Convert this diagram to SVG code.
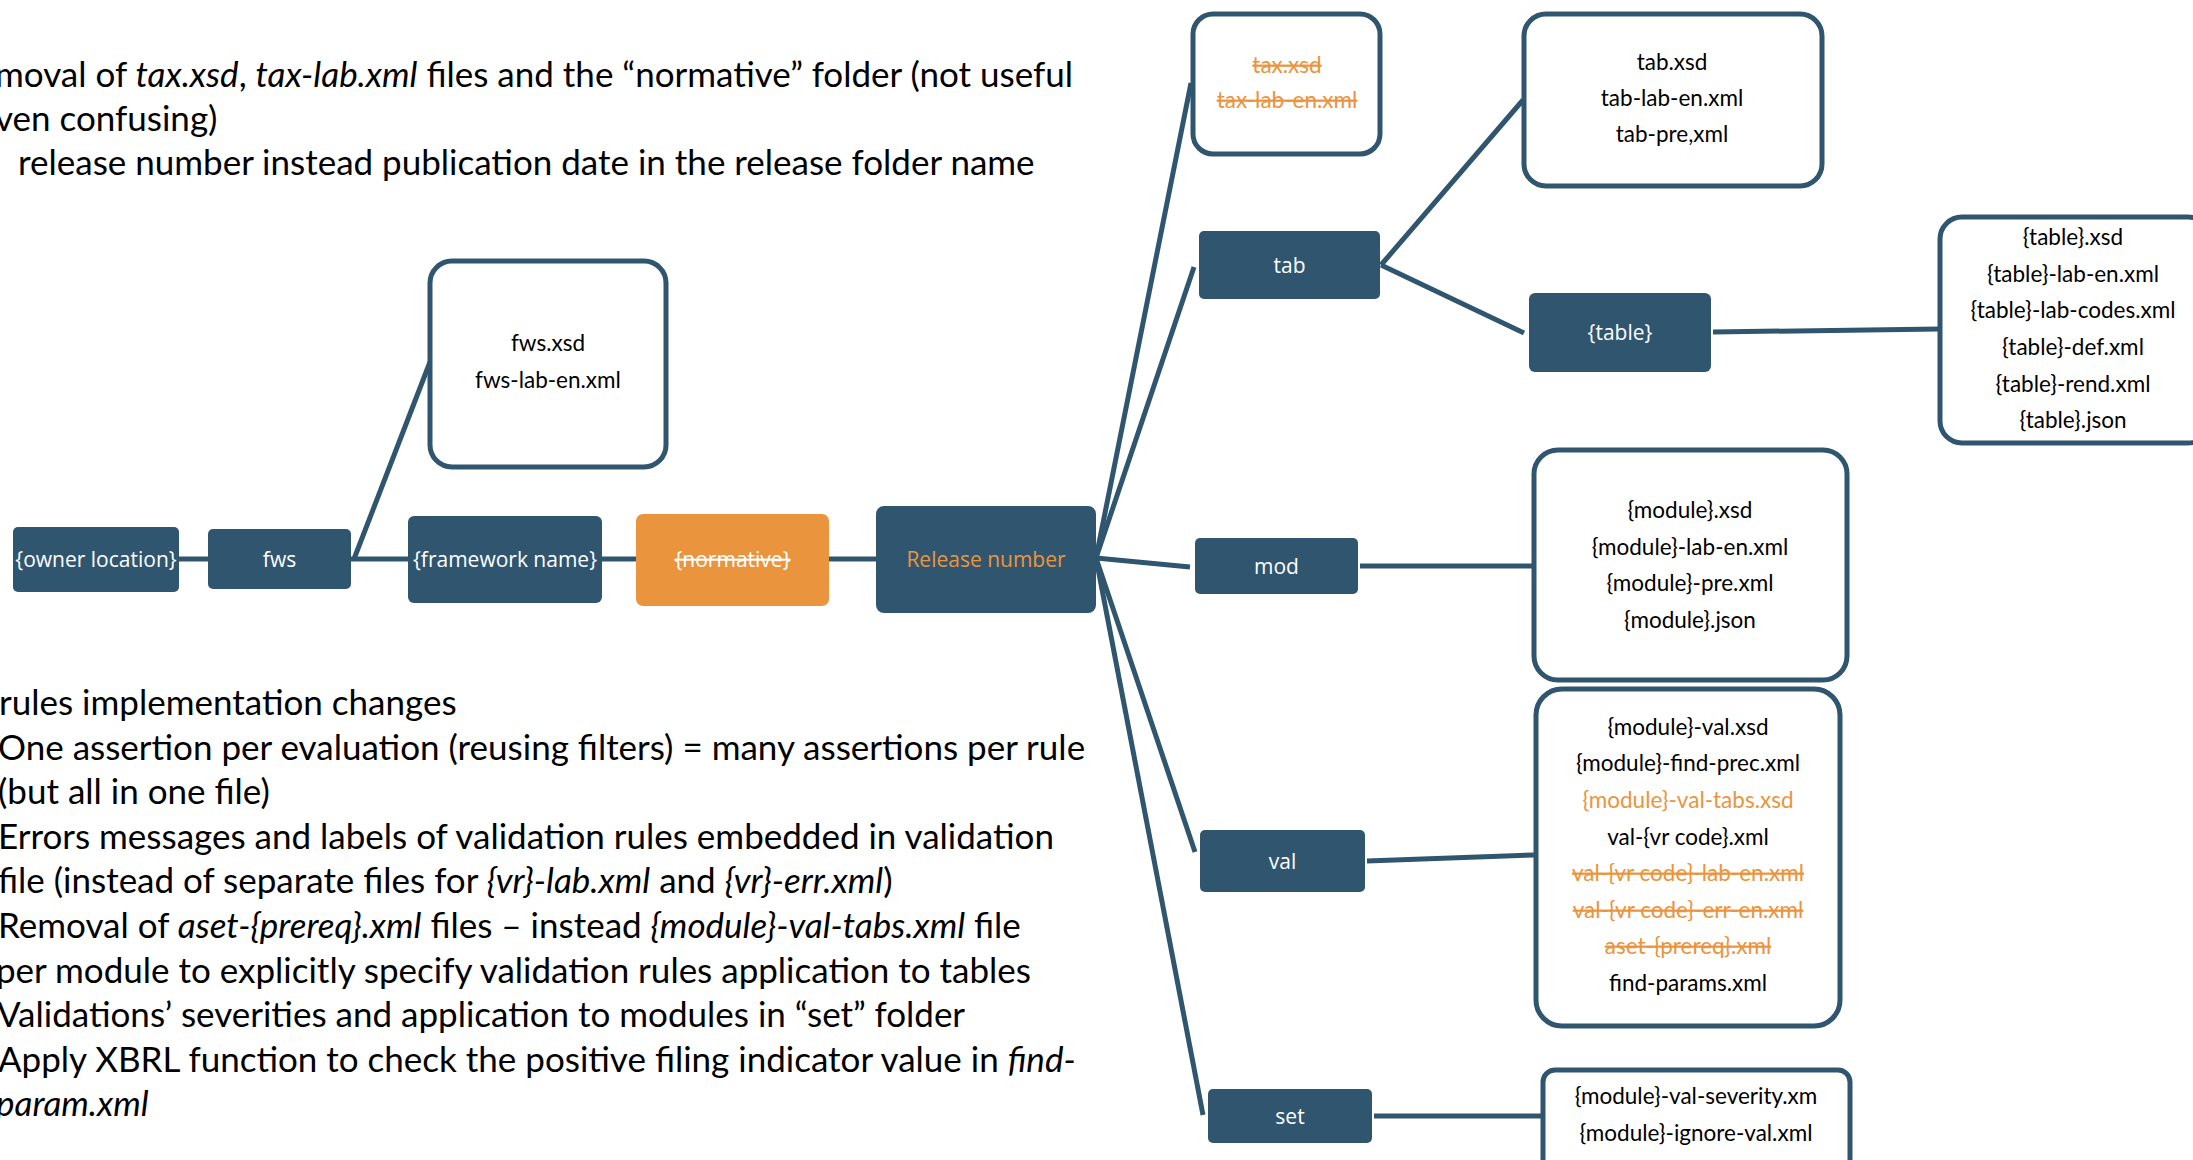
<svg xmlns="http://www.w3.org/2000/svg" width="2193" height="1160" viewBox="0 0 2193 1160">
  <style>
    .note { font-family: Lato, "Liberation Sans", sans-serif; font-size: 35px; fill: #000; }
    .note .it { font-style: italic; }
    .folder { fill: #30566F; }
    .folder-x { fill: #EA953D; }
    .lbl { font-family: "Open Sans", "Liberation Sans", sans-serif; font-size: 21px; fill: #FFFFFF; text-anchor: middle; dominant-baseline: central; }
    .lbl-o { fill: #EA953D; }
    .files { fill: #FFFFFF; stroke: #30566F; stroke-width: 5; }
    .file { font-family: Lato, "Liberation Sans", sans-serif; font-size: 22.5px; fill: #000; text-anchor: middle; }
    .gone { fill: #EA953D; text-decoration: line-through; }
    .new { fill: #EA953D; }
    .link { stroke: #30566F; stroke-width: 5; fill: none; stroke-linecap: butt; }
  </style>

  <!-- explanatory notes -->
  <g id="notes-top" class="note">
    <text x="-5" y="87">moval of <tspan class="it">tax.xsd</tspan>, <tspan class="it">tax-lab.xml</tspan> files and the “normative” folder (not useful</text>
    <text x="-5" y="131">ven confusing)</text>
    <text x="18" y="175">release number instead publication date in the release folder name</text>
  </g>
  <g id="notes-bottom" class="note">
    <text x="-1" y="715">rules implementation changes</text>
    <text x="-2" y="760">One assertion per evaluation (reusing filters) = many assertions per rule</text>
    <text x="-2" y="804">(but all in one file)</text>
    <text x="-2" y="849">Errors messages and labels of validation rules embedded in validation</text>
    <text x="-2" y="893">file (instead of separate files for <tspan class="it">{vr}-lab.xml</tspan> and <tspan class="it">{vr}-err.xml</tspan>)</text>
    <text x="-2" y="938">Removal of <tspan class="it">aset-{prereq}.xml</tspan> files – instead <tspan class="it">{module}-val-tabs.xml</tspan> file</text>
    <text x="-4" y="983">per module to explicitly specify validation rules application to tables</text>
    <text x="-3" y="1027">Validations’ severities and application to modules in “set” folder</text>
    <text x="-2" y="1072">Apply XBRL function to check the positive filing indicator value in <tspan class="it">find-</tspan></text>
    <text x="-4" y="1116" class="it">param.xml</text>
  </g>

  <!-- connectors -->
  <g id="connectors" class="link">
    <line x1="179" y1="559" x2="208" y2="559"/>
    <line x1="351" y1="559" x2="408" y2="559"/>
    <line x1="354" y1="559" x2="430" y2="362"/>
    <line x1="602" y1="559" x2="636" y2="559"/>
    <line x1="829" y1="559" x2="876" y2="559"/>
    <line x1="1096" y1="558" x2="1191" y2="83"/>
    <line x1="1096" y1="558" x2="1194" y2="267"/>
    <line x1="1096" y1="558" x2="1190" y2="567"/>
    <line x1="1096" y1="558" x2="1195" y2="852"/>
    <line x1="1096" y1="558" x2="1203" y2="1115"/>
    <line x1="1381" y1="265" x2="1523" y2="100"/>
    <line x1="1381" y1="265" x2="1524" y2="333"/>
    <line x1="1713" y1="332" x2="1939" y2="329"/>
    <line x1="1360" y1="566" x2="1532" y2="566"/>
    <line x1="1367" y1="861" x2="1534" y2="855"/>
    <line x1="1374" y1="1116" x2="1542" y2="1116"/>
  </g>

  <!-- folder path -->
  <g id="owner-location">
    <rect class="folder" x="13" y="527" width="166" height="65" rx="5"/>
    <text class="lbl" x="96" y="559">{owner location}</text>
  </g>
  <g id="fws">
    <rect class="folder" x="208" y="529" width="143" height="60" rx="5"/>
    <text class="lbl" x="279.5" y="559">fws</text>
  </g>
  <g id="fws-files">
    <rect class="files" x="430" y="261" width="236" height="206" rx="22"/>
    <text class="file" x="548" y="351">fws.xsd</text>
    <text class="file" x="548" y="388">fws-lab-en.xml</text>
  </g>
  <g id="framework-name">
    <rect class="folder" x="408" y="516" width="194" height="87" rx="6"/>
    <text class="lbl" x="505" y="559">{framework name}</text>
  </g>
  <g id="normative">
    <rect class="folder-x" x="636" y="514" width="193" height="92" rx="7"/>
    <text class="lbl" x="732.5" y="559" text-decoration="line-through">{normative}</text>
  </g>
  <g id="release-number">
    <rect class="folder" x="876" y="506" width="220" height="107" rx="8"/>
    <text class="lbl lbl-o" x="986" y="559">Release number</text>
  </g>

  <!-- release content -->
  <g id="tax-files">
    <rect class="files" x="1193" y="14" width="187" height="140" rx="20"/>
    <text class="file gone" x="1287" y="73">tax.xsd</text>
    <text class="file gone" x="1287" y="108">tax-lab-en.xml</text>
  </g>
  <g id="tab">
    <rect class="folder" x="1199" y="231" width="181" height="68" rx="5"/>
    <text class="lbl" x="1289.5" y="265">tab</text>
  </g>
  <g id="tab-files">
    <rect class="files" x="1524" y="14" width="298" height="172" rx="22"/>
    <text class="file" x="1672" y="70">tab.xsd</text>
    <text class="file" x="1672" y="106">tab-lab-en.xml</text>
    <text class="file" x="1672" y="142">tab-pre,xml</text>
  </g>
  <g id="table">
    <rect class="folder" x="1529" y="293" width="182" height="79" rx="6"/>
    <text class="lbl" x="1620" y="332">{table}</text>
  </g>
  <g id="table-files">
    <rect class="files" x="1940" y="217" width="270" height="226" rx="22"/>
    <text class="file" x="2073" y="245">{table}.xsd</text>
    <text class="file" x="2073" y="282">{table}-lab-en.xml</text>
    <text class="file" x="2073" y="318">{table}-lab-codes.xml</text>
    <text class="file" x="2073" y="355">{table}-def.xml</text>
    <text class="file" x="2073" y="392">{table}-rend.xml</text>
    <text class="file" x="2073" y="428">{table}.json</text>
  </g>
  <g id="mod">
    <rect class="folder" x="1195" y="538" width="163" height="56" rx="5"/>
    <text class="lbl" x="1276.5" y="566">mod</text>
  </g>
  <g id="mod-files">
    <rect class="files" x="1534" y="450" width="313" height="230" rx="24"/>
    <text class="file" x="1690" y="518">{module}.xsd</text>
    <text class="file" x="1690" y="555">{module}-lab-en.xml</text>
    <text class="file" x="1690" y="591">{module}-pre.xml</text>
    <text class="file" x="1690" y="628">{module}.json</text>
  </g>
  <g id="val">
    <rect class="folder" x="1200" y="830" width="165" height="62" rx="5"/>
    <text class="lbl" x="1282.5" y="861">val</text>
  </g>
  <g id="val-files">
    <rect class="files" x="1536" y="689" width="304" height="337" rx="26"/>
    <text class="file" x="1688" y="735">{module}-val.xsd</text>
    <text class="file" x="1688" y="771">{module}-find-prec.xml</text>
    <text class="file new" x="1688" y="808">{module}-val-tabs.xsd</text>
    <text class="file" x="1688" y="845">val-{vr code}.xml</text>
    <text class="file gone" x="1688" y="881">val-{vr code}-lab-en.xml</text>
    <text class="file gone" x="1688" y="918">val-{vr code}-err-en.xml</text>
    <text class="file gone" x="1688" y="954">aset-{prereq}.xml</text>
    <text class="file" x="1688" y="991">find-params.xml</text>
  </g>
  <g id="set">
    <rect class="folder" x="1208" y="1089" width="164" height="54" rx="5"/>
    <text class="lbl" x="1290" y="1116">set</text>
  </g>
  <g id="set-files">
    <rect class="files" x="1543" y="1070" width="307" height="110" rx="12"/>
    <text class="file" x="1696" y="1104">{module}-val-severity.xm</text>
    <text class="file" x="1696" y="1141">{module}-ignore-val.xml</text>
  </g>
</svg>
